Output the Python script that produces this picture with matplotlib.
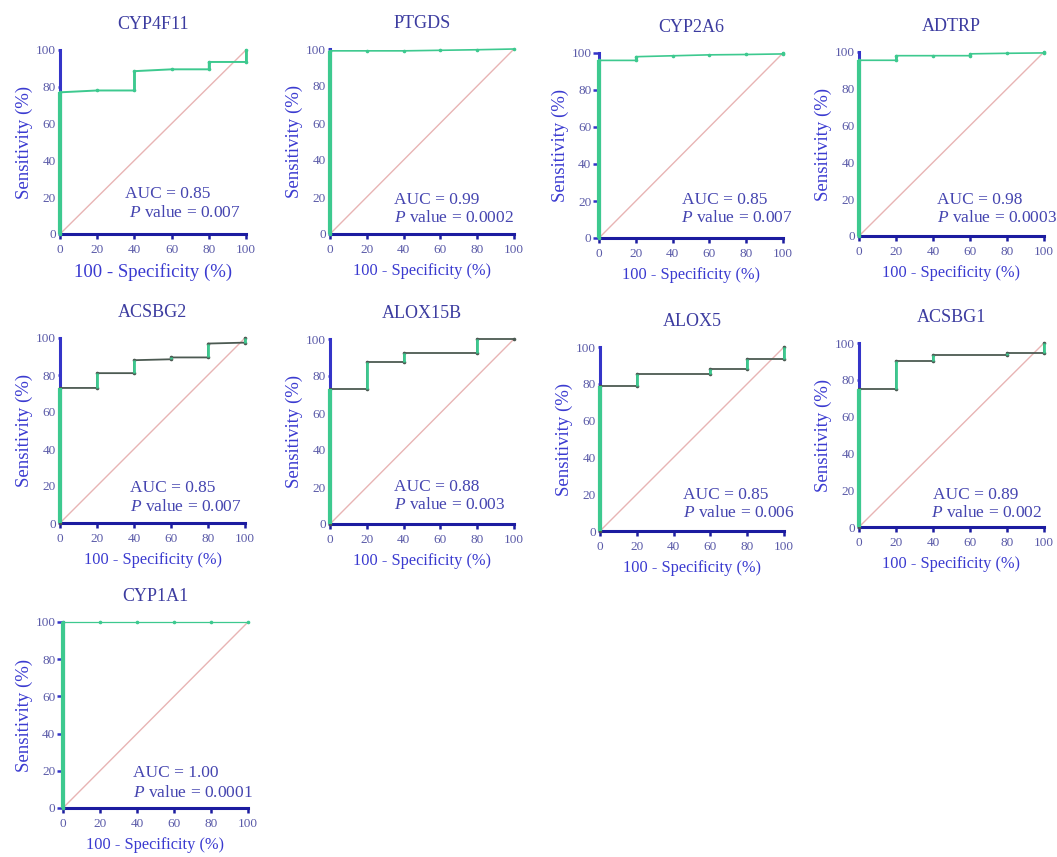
import matplotlib
matplotlib.use('Agg')
import matplotlib.pyplot as plt

# ROC panels (100 - specificity on x, sensitivity on y)
genes = ['CYP4F11', 'PTGDS', 'CYP2A6', 'ADTRP',
         'ACSBG2', 'ALOX15B', 'ALOX5', 'ACSBG1', 'CYP1A1']
auc_values = ['0.85', '0.99', '0.85', '0.98', '0.85', '0.88', '0.85', '0.89', '1.00']
p_values = ['0.007', '0.0002', '0.007', '0.0003', '0.007', '0.003', '0.006', '0.002', '0.0001']

roc_x = [
    [0, 0, 20, 40, 40, 60, 80, 80, 100, 100],
    [0, 0, 20, 40, 60, 80, 100],
    [0, 0, 20, 20, 40, 60, 80, 100, 100],
    [0, 0, 20, 20, 40, 60, 60, 80, 100, 100],
    [0, 0, 20, 20, 40, 40, 60, 60, 80, 80, 100, 100],
    [0, 0, 20, 20, 40, 40, 80, 80, 100],
    [0, 0, 20, 20, 60, 60, 80, 80, 100, 100],
    [0, 0, 20, 20, 40, 40, 80, 80, 100, 100],
    [0, 0, 20, 40, 60, 80, 100],
]
roc_y = [
    [0, 77, 78, 78, 88.5, 89.5, 89.5, 93.5, 93.5, 100],
    [0, 99, 99, 99, 99.3, 99.6, 100],
    [0, 96, 96, 98, 98.5, 99, 99.2, 99.5, 100],
    [0, 95.5, 95.5, 98, 98, 98, 99, 99.3, 99.5, 100],
    [0, 73, 73, 81, 81, 88, 88.5, 89.5, 89.5, 97, 97.5, 100],
    [0, 73, 73, 87.5, 87.5, 92.5, 92.5, 100, 100],
    [0, 79, 79, 85.5, 85.5, 88, 88, 93.5, 93.5, 100],
    [0, 75, 75, 90, 90, 93.5, 93.5, 94.5, 94.5, 100],
    [0, 100, 100, 100, 100, 100, 100],
]

# axes boxes in pixels: left, right, top, bottom
boxes = [
    (60, 246, 50, 234), (330, 514, 49, 234), (599, 783, 53, 238), (859, 1044, 52, 236),
    (60, 245, 338, 523), (330, 514, 339, 524), (600, 784, 347, 531), (859, 1044, 343, 527),
    (63, 248, 622, 808),
]
# AUC / P text anchor (data coords)
text_pos = [(35, 22, 37, 11.4), (35, 18.4, 35, 8.6), (45, 20.5, 44.6, 10.8), (42, 19.6, 42, 9.8),
            (38, 19, 38, 8.8), (35, 20.2, 35, 10.3), (45, 19.6, 45, 9.6), (40, 17.4, 39, 7.4),
            (38, 18.7, 38, 7.9)]
flat_colors = ['#3dc98f'] * 4 + ['#4c5a52'] * 4 + ['#3dc98f']
flat_widths = [1.4, 1.2, 1.2, 1.2, 1.3, 1.3, 1.3, 1.3, 0.9]
ytick_len = [1.5, 1.5, 4, 1.5, 1.5, 1.5, 1.5, 1.5, 4]
xlabel_size = [13.5] + [11.8] * 8

plt.rcParams['font.family'] = 'Liberation Serif'
plt.rcParams['mathtext.fontset'] = 'custom'
plt.rcParams['mathtext.it'] = 'Liberation Serif:italic'
plt.rcParams['mathtext.rm'] = 'Liberation Serif'

W, H = 1057, 857
fig = plt.figure(figsize=(W / 100, H / 100), dpi=100)

green = '#3dc98f'
text_blue = '#4545b0'
label_blue = '#3a3ad0'
tick_blue = '#5a5aa8'

for i, gene in enumerate(genes):
    l, r, t, b = boxes[i]
    ax = fig.add_axes([l / W, (H - b) / H, (r - l) / W, (b - t) / H])
    xs, ys = roc_x[i], roc_y[i]

    ax.plot([0, 100], [0, 100], color='#e8b4b4', lw=1, zorder=1)
    # horizontal parts
    ax.plot(xs, ys, color=flat_colors[i], lw=flat_widths[i], marker='o', ms=1.6,
            clip_on=False, zorder=3)
    # vertical steps in green
    for j in range(len(xs) - 1):
        if xs[j] == xs[j + 1]:
            lw = 3 if xs[j] == 0 else 2
            ax.plot([xs[j], xs[j + 1]], [ys[j], ys[j + 1]], color=green, lw=lw,
                    clip_on=False, zorder=4, solid_capstyle='butt')

    ax.set_xlim(0, 100)
    ax.set_ylim(0, 100)
    ax.set_xticks([0, 20, 40, 60, 80, 100])
    ax.set_yticks([0, 20, 40, 60, 80, 100])
    for s in ['top', 'right']:
        ax.spines[s].set_visible(False)
    ax.spines['left'].set_color('#3434c8')
    ax.spines['left'].set_linewidth(2.2)
    ax.spines['bottom'].set_color('#1c1ca0')
    ax.spines['bottom'].set_linewidth(2.2)
    ax.tick_params(axis='x', direction='out', length=3.5, width=1.8, color='#1c1ca0',
                   labelsize=9.5, labelcolor=tick_blue, pad=4)
    ax.tick_params(axis='y', direction='out', length=ytick_len[i], width=1.8, color='#3434c8',
                   labelsize=9.5, labelcolor=tick_blue, pad=1.5)

    ax.set_title(gene, fontsize=13, color='#3c3ca0', pad=15)
    ax.set_xlabel('100 - Specificity (%)', fontsize=xlabel_size[i], color=label_blue, labelpad=5)
    ax.set_ylabel('Sensitivity (%)', fontsize=13.5, color=label_blue, labelpad=2)

    ax1, ay1, px, py = text_pos[i]
    ax.text(ax1, ay1, 'AUC = ' + auc_values[i], fontsize=12.5, color=text_blue,
            ha='left', va='center', clip_on=False)
    ax.text(px, py, '$P$ value = ' + p_values[i], fontsize=12.5, color=text_blue,
            ha='left', va='center', clip_on=False)

plt.savefig('out.png', dpi=100)
